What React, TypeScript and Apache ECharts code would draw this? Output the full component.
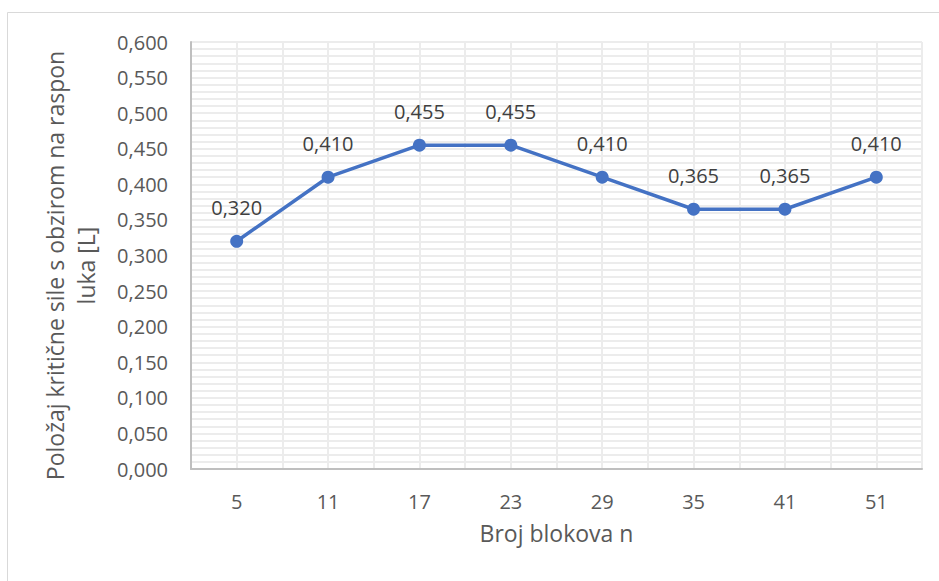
import React, { useEffect, useRef } from "react";
import * as echarts from "echarts";

const categories = ["5", "11", "17", "23", "29", "35", "41", "51"];
const values = [0.32, 0.41, 0.455, 0.455, 0.41, 0.365, 0.365, 0.41];
const yTitle = "Položaj kritične sile s obzirom na raspon\nluka [L]";
const xTitle = "Broj blokova n";

const fmt = (v: number) => v.toFixed(3).replace(".", ",");
const FONT = "Open Sans";

export default function App() {
  const ref = useRef<HTMLDivElement>(null);
  useEffect(() => {
    if (!ref.current) return;
    const chart = echarts.init(ref.current, null, { renderer: "svg" });
    chart.setOption({
      animation: false,
      textStyle: { fontFamily: FONT },
      graphic: [
        {
          type: "rect",
          shape: { x: 7.5, y: 12.5, width: 940, height: 600 },
          style: { fill: "none", stroke: "#d9d9d9", lineWidth: 1 },
          silent: true,
        },
      ],
      grid: { left: 191, top: 42, right: 17, bottom: 112, containLabel: false },
      xAxis: [
        {
          type: "category",
          data: categories,
          boundaryGap: true,
          name: xTitle,
          nameLocation: "middle",
          nameGap: 52,
          nameTextStyle: { fontSize: 23, color: "#595959", fontFamily: FONT },
          axisLine: { show: true, lineStyle: { color: "#bfbfbf", width: 2 } },
          axisTick: { show: false },
          axisLabel: { fontSize: 20, color: "#595959", margin: 22, fontFamily: FONT },
          splitLine: { show: false },
          z: 3,
        },
        {
          type: "value",
          min: 0,
          max: 16,
          interval: 1,
          show: true,
          axisLine: { show: false },
          axisTick: { show: false },
          axisLabel: { show: false },
          splitLine: { show: true, lineStyle: { color: "#ececec", width: 2 } },
        },
      ],
      yAxis: {
        type: "value",
        min: 0,
        max: 0.6,
        interval: 0.05,
        name: yTitle,
        nameLocation: "middle",
        nameGap: 90,
        nameTextStyle: {
          fontSize: 23,
          color: "#595959",
          fontFamily: FONT,
          lineHeight: 31,
          padding: [0, 20, 0, 0],
        },
        axisLine: { show: true, lineStyle: { color: "#bfbfbf", width: 2 } },
        axisTick: { show: false },
        axisLabel: { fontSize: 20, color: "#595959", margin: 23, formatter: (v: number) => fmt(v), fontFamily: FONT },
        splitLine: { show: true, lineStyle: { color: "#ececec", width: 2 } },
        minorTick: { show: false, splitNumber: 5 },
        minorSplitLine: { show: true, lineStyle: { color: "#ececec", width: 2 } },
      },
      series: [
        {
          type: "line",
          xAxisIndex: 0,
          data: values,
          symbol: "circle",
          symbolSize: 13,
          itemStyle: { color: "#4472c4" },
          lineStyle: { color: "#4472c4", width: 3.5 },
          label: {
            show: true,
            position: "top",
            distance: 17,
            fontSize: 20,
            color: "#404040",
            fontFamily: FONT,
            formatter: (p: any) => fmt(p.value),
          },
          z: 5,
        },
      ],
    });
    return () => chart.dispose();
  }, []);
  return (
    <div
      ref={ref}
      style={{ position: "fixed", left: 0, top: 0, width: 939, height: 581, background: "#fff" }}
    />
  );
}
